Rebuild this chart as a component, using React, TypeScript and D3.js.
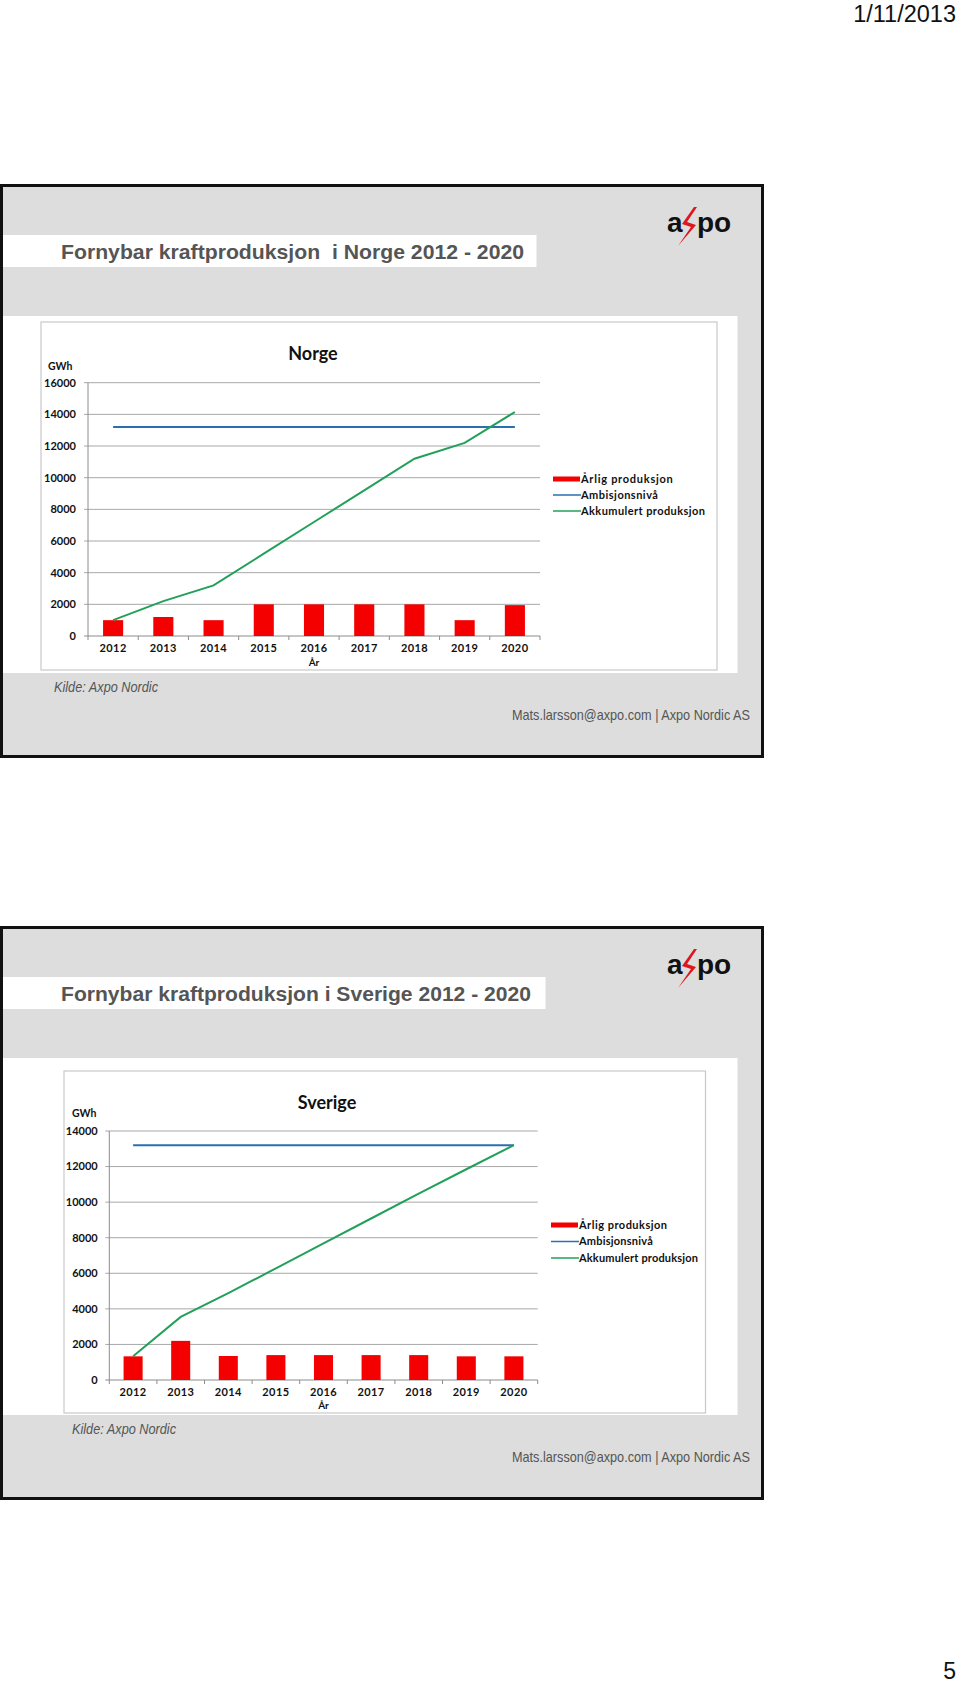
import React from 'react';
import * as d3 from 'd3';

// ---------- data ----------
const years = ['2012', '2013', '2014', '2015', '2016', '2017', '2018', '2019', '2020'];

const norgeTicks = [0, 2000, 4000, 6000, 8000, 10000, 12000, 14000, 16000];
const norgeAnnual = [1000, 1200, 1000, 2000, 2000, 2000, 2000, 1000, 1950];
const norgeAmbition = [13200, 13200, 13200, 13200, 13200, 13200, 13200, 13200, 13200];
const norgeAccum = [1000, 2200, 3200, 5200, 7200, 9200, 11200, 12200, 14150];

const sverigeTicks = [0, 2000, 4000, 6000, 8000, 10000, 12000, 14000];
const sverigeAnnual = [1330, 2200, 1350, 1400, 1400, 1400, 1400, 1330, 1330];
const sverigeAmbition = [13200, 13200, 13200, 13200, 13200, 13200, 13200, 13200, 13200];
const sverigeAccum = [1330, 3550, 4880, 6280, 7680, 9080, 10480, 11850, 13200];

const legendLabels = ['Årlig produksjon', 'Ambisjonsnivå', 'Akkumulert produksjon'];

const RED = '#f40000';
const BLUE = '#2a6fae';
const GREEN = '#22a05a';
const SLIDE_BG = '#dcdddc';
const CHART_FONT = 'Lato, "Open Sans", sans-serif';
const NARROW = '"Liberation Sans Narrow", "Liberation Sans", Arial, sans-serif';

type ChartCfg = {
  name: string;
  box: { x: number; y: number; w: number; h: number };
  plot: { left: number; right: number; top: number; bottom: number };
  yMax: number;
  ticks: number[];
  annual: number[];
  ambition: number[];
  accum: number[];
  titleX: number;
  titleY: number;
  gwhX: number;
  gwhY: number;
  tickLabelX: number;
  xLabelY: number;
  arY: number;
  legendX: number;
  legendY: number;
  legendDy: number;
  legendLen: number;
};

function Chart({ c }: { c: ChartCfg }) {
  const x = d3
    .scaleBand<string>()
    .domain(years)
    .range([c.plot.left, c.plot.right])
    .paddingInner(0.6)
    .paddingOuter(0.3);
  const y = d3.scaleLinear().domain([0, c.yMax]).range([c.plot.bottom, c.plot.top]);
  const step = x.step();
  const cx = (d: string) => (x(d) as number) + x.bandwidth() / 2;
  const line = d3
    .line<number>()
    .x((_, i) => cx(years[i]))
    .y((v) => y(v));
  const legendLens = [c.legendLen * 0.74, c.legendLen * 0.62, c.legendLen];

  return (
    <g>
      <rect x={c.box.x} y={c.box.y} width={c.box.w} height={c.box.h} fill="#fff" stroke="#c8c8c8" strokeWidth={1.2} />
      <text x={c.titleX} y={c.titleY} textAnchor="middle" fontFamily={CHART_FONT} fontWeight={700} fontSize={18} fill="#111">
        {c.name}
      </text>
      <text x={c.gwhX} y={c.gwhY} fontFamily={CHART_FONT} fontWeight={700} fontSize={10.5} fill="#111">
        GWh
      </text>
      {c.ticks.map((t) => (
        <g key={t}>
          <line x1={c.plot.left - 4} x2={c.plot.right} y1={y(t)} y2={y(t)} stroke={t === 0 ? '#8c8c8c' : '#a8a8a8'} strokeWidth={1} />
          <text x={c.tickLabelX} y={y(t)} dy="0.35em" textAnchor="end" fontFamily={CHART_FONT} fontWeight={700} fontSize={11} fill="#111">
            {t}
          </text>
        </g>
      ))}
      <line x1={c.plot.left} x2={c.plot.left} y1={c.plot.top} y2={c.plot.bottom} stroke="#8c8c8c" strokeWidth={1} />
      {d3.range(years.length + 1).map((i) => (
        <line key={i} x1={c.plot.left + i * step} x2={c.plot.left + i * step} y1={c.plot.bottom} y2={c.plot.bottom + 4} stroke="#8c8c8c" strokeWidth={1} />
      ))}
      {years.map((yr, i) => (
        <rect key={yr} x={x(yr)} y={y(c.annual[i])} width={x.bandwidth()} height={y(0) - y(c.annual[i])} fill={RED} />
      ))}
      <path d={line(c.ambition) || ''} fill="none" stroke={BLUE} strokeWidth={2} />
      <path d={line(c.accum) || ''} fill="none" stroke={GREEN} strokeWidth={2} />
      {years.map((yr) => (
        <text key={yr} x={cx(yr)} y={c.xLabelY} textAnchor="middle" fontFamily={CHART_FONT} fontWeight={700} fontSize={11} fill="#111" letterSpacing={0.4}>
          {yr}
        </text>
      ))}
      <text x={(c.plot.left + c.plot.right) / 2} y={c.arY} textAnchor="middle" fontFamily={CHART_FONT} fontWeight={700} fontSize={10} fill="#111">
        År
      </text>
      {legendLabels.map((lab, i) => {
        const ly = c.legendY + i * c.legendDy;
        return (
          <g key={lab}>
            {i === 0 ? (
              <rect x={c.legendX} y={ly - 2.5} width={27} height={5} fill={RED} />
            ) : (
              <line x1={c.legendX} x2={c.legendX + 28} y1={ly} y2={ly} stroke={i === 1 ? BLUE : GREEN} strokeWidth={1.5} />
            )}
            <text
              x={c.legendX + 28}
              y={ly}
              dy="0.35em"
              fontFamily={CHART_FONT}
              fontWeight={700}
              fontSize={11}
              fill="#111"
              textLength={legendLens[i]}
              lengthAdjust="spacing"
            >
              {lab}
            </text>
          </g>
        );
      })}
    </g>
  );
}

function Logo({ dy }: { dy: number }) {
  return (
    <g transform={`translate(0,${dy})`}>
      <text x={667} y={232} fontFamily='"Liberation Sans", Arial, sans-serif' fontWeight={700} fontSize={28} fill="#111">
        a
      </text>
      <path d="M694 207 L682 224 L691 227 L678 246 L696 225 L687 222 L697 207 Z" fill="#e0161f" />
      <text x={697} y={232} fontFamily='"Liberation Sans", Arial, sans-serif' fontWeight={700} fontSize={28} fill="#111">
        po
      </text>
    </g>
  );
}

function Slide({
  dy,
  title,
  titleLen,
  stripW,
  kildeX,
  chart,
}: {
  dy: number;
  title: string;
  titleLen: number;
  stripW: number;
  kildeX: number;
  chart: ChartCfg;
}) {
  return (
    <g>
      <g transform={`translate(0,${dy})`}>
        <rect x={1.5} y={185.5} width={761} height={571} fill={SLIDE_BG} />
        <rect x={1.5} y={235} width={stripW} height={32} fill="#fff" />
        <text
          x={61}
          y={259}
          fontFamily={NARROW}
          fontWeight={700}
          fontSize={21}
          fill="#555"
          textLength={titleLen}
          lengthAdjust="spacingAndGlyphs"
          style={{ whiteSpace: 'pre' }}
        >
          {title}
        </text>
        <rect x={1.5} y={316} width={736} height={357} fill="#fff" />
        <text x={kildeX} y={692} fontFamily={NARROW} fontStyle="italic" fontSize={14} fill="#555" textLength={104} lengthAdjust="spacingAndGlyphs">
          Kilde: Axpo Nordic
        </text>
        <text x={750} y={720} textAnchor="end" fontFamily={NARROW} fontSize={15} fill="#555" textLength={238} lengthAdjust="spacingAndGlyphs">
          Mats.larsson@axpo.com | Axpo Nordic AS
        </text>
      </g>
      <Logo dy={dy} />
      <Chart c={chart} />
      <rect x={1.5} y={185.5 + dy} width={761} height={571} fill="none" stroke="#111" strokeWidth={3} />
    </g>
  );
}

const norgeCfg: ChartCfg = {
  name: 'Norge',
  box: { x: 41, y: 322, w: 676, h: 348 },
  plot: { left: 88, right: 540, top: 382.7, bottom: 636 },
  yMax: 16000,
  ticks: norgeTicks,
  annual: norgeAnnual,
  ambition: norgeAmbition,
  accum: norgeAccum,
  titleX: 313,
  titleY: 360,
  gwhX: 48,
  gwhY: 370,
  tickLabelX: 76,
  xLabelY: 652,
  arY: 666,
  legendX: 553,
  legendY: 479,
  legendDy: 16,
  legendLen: 124,
};

const sverigeCfg: ChartCfg = {
  name: 'Sverige',
  box: { x: 64, y: 1071, w: 641.5, h: 342 },
  plot: { left: 109.3, right: 537.7, top: 1131, bottom: 1380 },
  yMax: 14000,
  ticks: sverigeTicks,
  annual: sverigeAnnual,
  ambition: sverigeAmbition,
  accum: sverigeAccum,
  titleX: 327,
  titleY: 1109,
  gwhX: 72,
  gwhY: 1117,
  tickLabelX: 97.7,
  xLabelY: 1396,
  arY: 1409,
  legendX: 551,
  legendY: 1225,
  legendDy: 16.5,
  legendLen: 119,
};

export default function App() {
  return (
    <svg
      width={960}
      height={1684}
      viewBox="0 0 960 1684"
      style={{ position: 'absolute', left: 0, top: 0, display: 'block', background: '#fff' }}
    >
      <text x={956} y={22} textAnchor="end" fontFamily='"Liberation Sans", Arial, sans-serif' fontSize={23.5} fill="#111">
        1/11/2013
      </text>
      <Slide dy={0} title="Fornybar kraftproduksjon  i Norge 2012 - 2020" titleLen={463} stripW={535} kildeX={54} chart={norgeCfg} />
      <Slide dy={742} title="Fornybar kraftproduksjon i Sverige 2012 - 2020" titleLen={470} stripW={544} kildeX={72} chart={sverigeCfg} />
      <text x={956} y={1679} textAnchor="end" fontFamily='"Liberation Sans", Arial, sans-serif' fontSize={23} fill="#111">
        5
      </text>
    </svg>
  );
}
